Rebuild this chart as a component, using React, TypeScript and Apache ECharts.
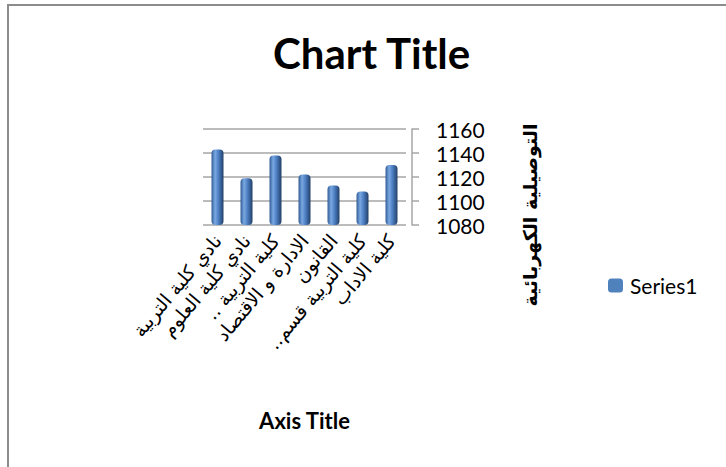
import React, { useEffect, useRef } from "react";
import * as echarts from "echarts";

const categories = [
  "نادي كلية التربية",
  "نادي كلية العلوم",
  "كلية التربية ..",
  "الادارة و الاقتصاد",
  "القانون",
  "كلية التربية قسم..",
  "كلية الاداب",
];
const values = [1143, 1119, 1138, 1122, 1113, 1108, 1130];
const seriesName = "Series1";
const chartTitle = "Chart Title";
const xAxisTitle = "Axis Title";
const yAxisTitle = "التوصيلية الكهربائية";
const yMin = 1080;
const yMax = 1160;
const yStep = 20;

export default function App() {
  const ref = useRef<HTMLDivElement>(null);
  useEffect(() => {
    if (!ref.current) return;
    const chart = echarts.init(ref.current, undefined, { renderer: "svg" });
    const gridColor = "#a6a6a6";
    chart.setOption({
      animation: false,
      backgroundColor: "#ffffff",
      title: {
        text: chartTitle,
        left: 268,
        top: 27,
        textStyle: { fontFamily: "Lato", fontWeight: "bold", fontSize: 42, color: "#000" },
      },
      legend: {
        data: [{ name: seriesName, itemStyle: { color: "#4f81bd" } }],
        left: 603,
        top: 270,
        itemWidth: 15,
        itemHeight: 14,
        textStyle: { fontFamily: "Lato", fontSize: 21, color: "#000", padding: [0, 0, 0, 2] },
      },
      grid: { left: 203, right: 320, top: 129, bottom: 242, containLabel: false },
      xAxis: {
        type: "category",
        data: categories,
        axisLine: { show: false },
        axisTick: { show: false },
        axisLabel: {
          interval: 0,
          rotate: 50,
          margin: 12,
          fontFamily: "DejaVu Sans",
          fontSize: 19,
          color: "#000",
          formatter: (v: string) => "\u200F" + v + "\u200F",
        },
        name: xAxisTitle,
        nameLocation: "middle",
        nameGap: 184,
        nameTextStyle: { fontFamily: "Lato", fontWeight: "bold", fontSize: 22, color: "#000" },
      },
      yAxis: {
        type: "value",
        position: "right",
        offset: 6,
        min: yMin,
        max: yMax,
        interval: yStep,
        axisLine: { show: true, lineStyle: { color: gridColor, width: 1.5 } },
        axisTick: { show: true, length: 7, lineStyle: { color: gridColor, width: 1.5 } },
        splitLine: { show: true, lineStyle: { color: gridColor, width: 1.5 } },
        axisLabel: {
          margin: 24,
          fontFamily: "Lato",
          fontSize: 21,
          lineHeight: 21,
          color: "#000",
          formatter: (v: number) => String(v),
        },
        name: yAxisTitle,
        nameLocation: "middle",
        nameRotate: 90,
        nameGap: 108,
        nameTextStyle: {
          fontFamily: "DejaVu Sans",
          fontWeight: "bold",
          fontSize: 19,
          color: "#000",
          padding: [0, 76, 0, 0],
        },
      },
      series: [
        {
          name: seriesName,
          type: "bar",
          data: values,
          barWidth: 12,
          itemStyle: {
            borderRadius: [4, 4, 4, 4],
            color: new echarts.graphic.LinearGradient(0, 0, 1, 0, [
              { offset: 0, color: "#2f5b94" },
              { offset: 0.3, color: "#7aa8e2" },
              { offset: 0.6, color: "#4a7cc0" },
              { offset: 1, color: "#233f66" },
            ]),
          },
        },
      ],
    });
    return () => chart.dispose();
  }, []);
  return (
    <div style={{ position: "fixed", left: 0, top: 0, width: 726, height: 467, background: "#fff" }}>
      <div ref={ref} style={{ position: "absolute", left: 0, top: 0, width: 726, height: 467 }} />
      <div
        style={{
          position: "absolute",
          left: 7,
          top: 4,
          width: 800,
          height: 600,
          borderLeft: "2px solid #8c8c8c",
          borderTop: "2px solid #8c8c8c",
          pointerEvents: "none",
        }}
      />
    </div>
  );
}
